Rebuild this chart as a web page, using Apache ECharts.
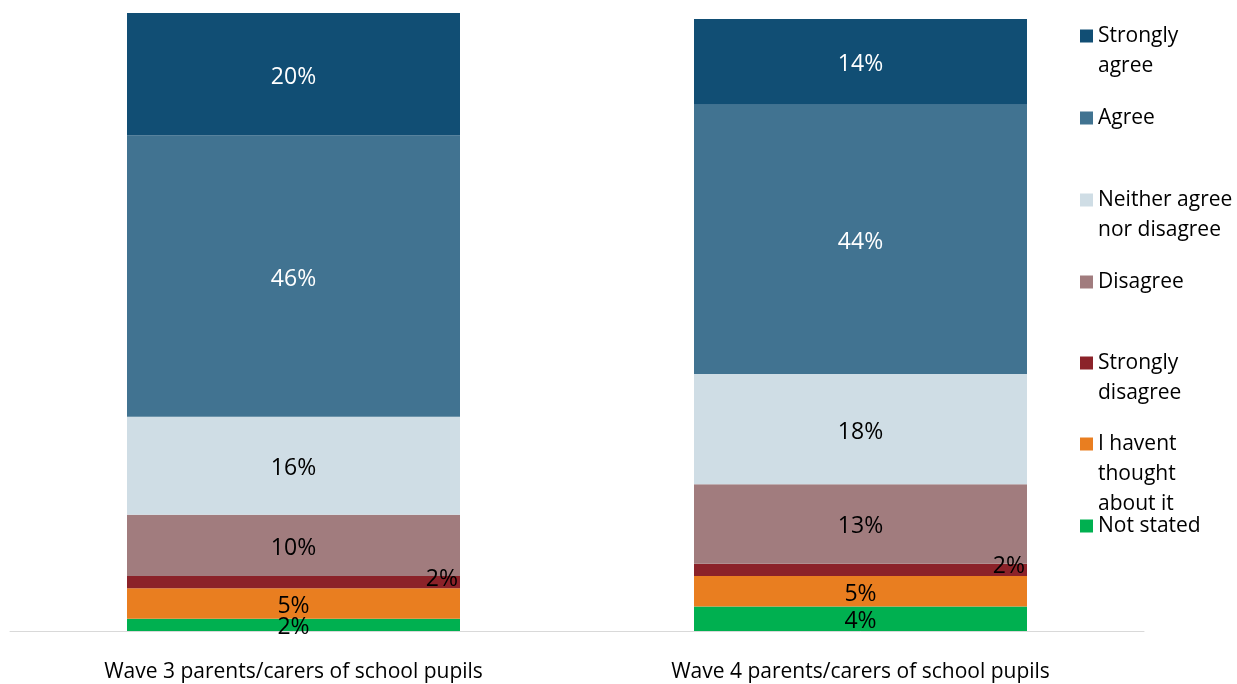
<!DOCTYPE html>
<html>
<head>
<meta charset="utf-8">
<script src="https://cdn.jsdelivr.net/npm/echarts@6/dist/echarts.min.js"></script>
<style>
  html, body { margin: 0; padding: 0; background: #fff; }
  #chart { width: 1237px; height: 684px; }
</style>
</head>
<body>
<div id="chart"></div>
<script>
var categories = ['Wave 3 parents/carers of school pupils', 'Wave 4 parents/carers of school pupils'];

var names = ['Strongly agree', 'Agree', 'Neither agree nor disagree', 'Disagree', 'Strongly disagree', 'I havent thought about it', 'Not stated'];
var legendText = ['Strongly\nagree', 'Agree', 'Neither agree\nnor disagree', 'Disagree', 'Strongly\ndisagree', 'I havent\nthought\nabout it', 'Not stated'];
var legendCenters = [34, 116, 198, 280, 361, 442, 524];

var stronglyAgree = [20, 14];
var agree = [46, 44];
var neither = [16, 18];
var disagree = [10, 13];
var stronglyDisagree = [2, 2];
var notThought = [5, 5];
var notStated = [2, 4];

var colors = ['#114e74', '#417391', '#cfdde5', '#a17c7e', '#8b2229', '#e97e20', '#00b050'];
var labelColors = ['#fff', '#fff', '#000', '#000', '#000', '#000', '#000'];

// bottom of stack first
var stackOrder = [notStated, notThought, stronglyDisagree, disagree, neither, agree, stronglyAgree];
var stackIdx = [6, 5, 4, 3, 2, 1, 0];

var font = '"Open Sans", "Noto Sans", sans-serif';
var lineH = 30;

var series = stackOrder.map(function (vals, i) {
  var k = stackIdx[i];
  var label = {
    show: true,
    color: labelColors[k],
    fontSize: 23,
    fontFamily: font,
    formatter: '{c}%'
  };
  if (k === 4) {
    label.position = 'insideRight';
    label.distance = 0;
    label.offset = [-2, -3];
  } else {
    label.position = 'inside';
    label.offset = [0, 3];
  }
  return {
    name: names[k],
    type: 'bar',
    stack: 'total',
    barWidth: 333,
    data: vals,
    itemStyle: { color: colors[k] },
    label: label,
    emphasis: { disabled: true }
  };
});

// legend text is centred on the marker, so pad with blank lines above
// to keep the first line level with the marker
var legends = names.map(function (n, k) {
  var lines = legendText[k].split('\n');
  var shown = lines.slice();
  for (var j = 1; j < lines.length; j++) shown.unshift(' ');
  var total = shown.length;
  return {
    data: [n],
    left: 1080,
    top: legendCenters[k] + 2 - total * lineH / 2,
    padding: 0,
    itemWidth: 13,
    itemHeight: 13,
    icon: 'rect',
    selectedMode: false,
    formatter: function () { return shown.join('\n'); },
    textStyle: {
      fontSize: 21,
      fontFamily: font,
      color: '#000',
      lineHeight: lineH
    }
  };
});

var chart = echarts.init(document.getElementById('chart'));
var option = {
  animation: false,
  legend: legends,
  grid: { left: 10, right: 93, top: 13, bottom: 53 },
  xAxis: {
    type: 'category',
    data: categories,
    axisLine: { lineStyle: { color: '#d9d9d9', width: 1 } },
    axisTick: { show: false },
    axisLabel: { color: '#000', fontSize: 21, fontFamily: font, margin: 31 }
  },
  yAxis: {
    type: 'value',
    min: 0,
    max: 101,
    show: false,
    splitLine: { show: false }
  },
  series: series
};
chart.setOption(option);
</script>
</body>
</html>
